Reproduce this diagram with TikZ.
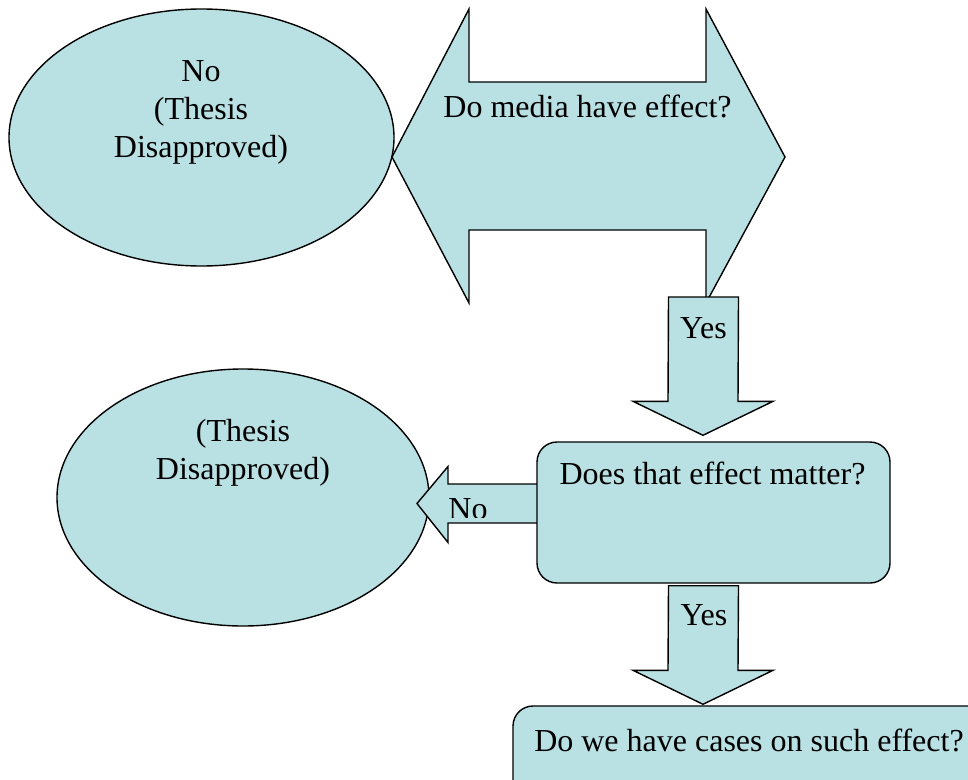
\documentclass[tikz,border=0pt]{standalone}
\usepackage{fontspec}
\setmainfont{Liberation Serif}
\usetikzlibrary{calc,positioning,shapes.geometric}
\definecolor{flowfill}{HTML}{B9E0E3}
\definecolor{flowink}{HTML}{000000}
\tikzset{
  flowline/.style={draw=flowink,line width=1.4pt,line join=miter},
  flowshape/.style={flowline,fill=flowfill},
  answerellipse/.style={flowshape,ellipse,inner sep=0pt},
  questionbox/.style={flowshape,rectangle,rounded corners=20pt,inner sep=0pt},
  flowtext/.style={inner sep=0pt,font=\fontsize{32}{38}\selectfont,align=center},
}
% block arrows: #1 tail, #2 tip
\newcommand{\blockdown}[2]{%
  \path[flowshape] ($(#1)+(-35,0)$) -- ($(#1)+(35,0)$) -- ($(#2)+(35,-34)$)
    -- ($(#2)+(70,-34)$) -- (#2) -- ($(#2)+(-70,-34)$) -- ($(#2)+(-35,-34)$) -- cycle;}
\newcommand{\blockleft}[2]{%
  \path[flowshape] ($(#1)+(0,-19.5)$) -- ($(#2)+(31,-19.5)$) -- ($(#2)+(31,-37)$)
    -- (#2) -- ($(#2)+(31,39)$) -- ($(#2)+(31,19.5)$) -- ($(#1)+(0,19.5)$);}

\begin{document}
\begin{tikzpicture}[x=1pt,y=-1pt]
  \useasboundingbox (0,0) rectangle (968,779);
  \clip (0,0) rectangle (968,779);

  % first question
  \node[answerellipse,minimum width=385pt,minimum height=257pt] (nothesis) at (201.5,137.5) {};
  \path[flowshape] (392,157) -- (469,9) -- (469,82) -- (706,82) -- (706,9) -- (785,157)
    -- (706,303) -- (706,230) -- (469,230) -- (469,303) -- cycle;
  \node[flowtext,anchor=base] (media) at (587.5,117) {Do media have effect?};
  \node[flowtext,anchor=base] (nothesistext) at (201,157) {No\\(Thesis\\Disapproved)};

  % second question
  \node[answerellipse,minimum width=372pt,minimum height=257pt] (rejected) at (243,497.5) {};
  \node[flowtext,anchor=base] (rejectedtext) at (243,479) {(Thesis\\Disapproved)};
  \coordinate (yestail) at (703.5,297);
  \coordinate (notail) at (537,503.5);
  \coordinate (notip) at (417,503.5);
  \blockleft{notail}{notip}
  \begin{scope}
    \clip (430,470) rectangle (530,517);
    \node[flowtext,anchor=base] (notwo) at (468,519) {No};
  \end{scope}
  \node[questionbox,minimum width=353pt,minimum height=141pt] (matter) at (713.5,512.5) {};
  \blockdown{yestail}{$(matter.north)+(-10.5,-6)$}
  \node[flowtext,anchor=base] (yesone) at (703.5,338) {Yes};
  \node[flowtext,anchor=base] (mattertext) at ($(matter.north)+(-1,43)$) {Does that effect matter?};

  % third question
  \node[questionbox,minimum width=487pt,minimum height=94pt] (cases) at (756.5,753) {};
  \coordinate (yestailtwo) at ($(matter.south)+(-10,2)$);
  \blockdown{yestailtwo}{$(cases.north)+(-53.5,-1)$}
  \node[flowtext,anchor=base] (yestwo) at (704,625) {Yes};
  \node[flowtext,anchor=base] (casestext) at (749,751) {Do we have cases on such effect?};
\end{tikzpicture}
\end{document}
